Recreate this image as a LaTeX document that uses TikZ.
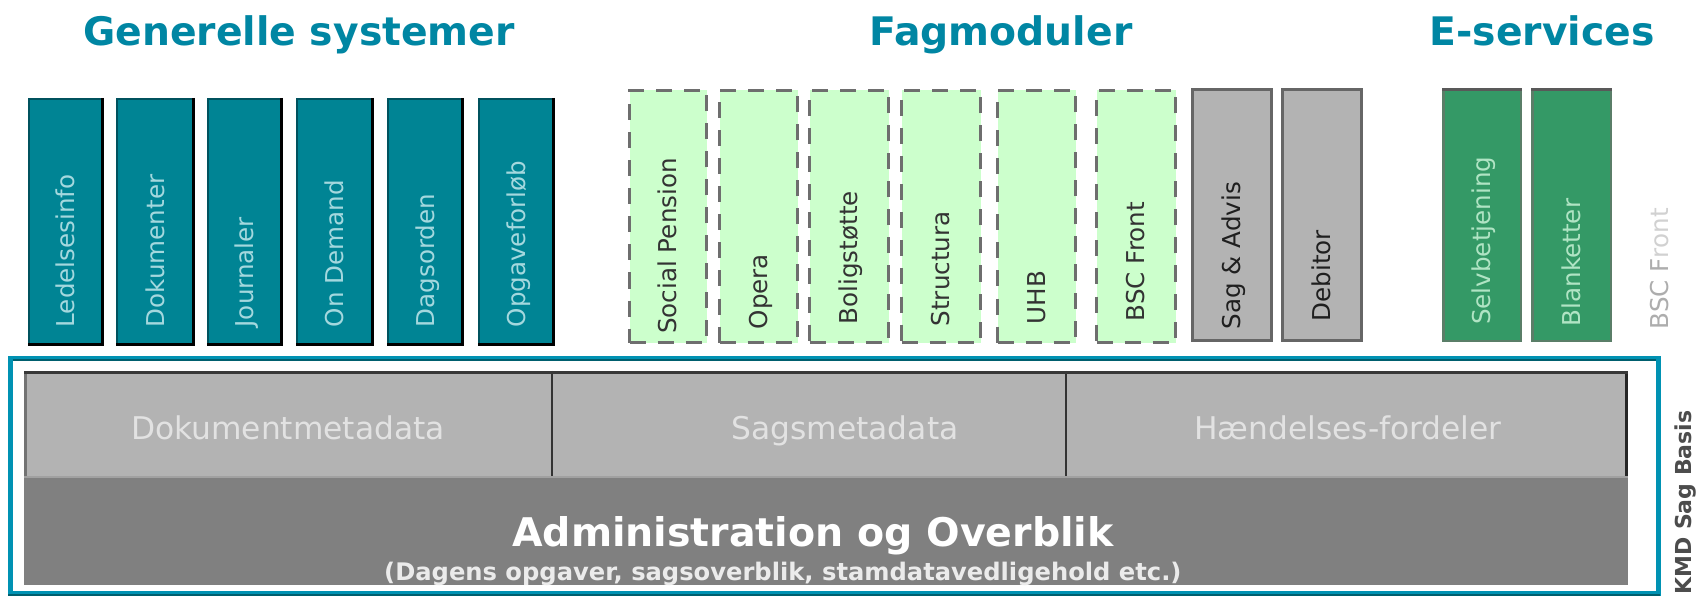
\documentclass[tikz,border=0pt]{standalone}
\usepackage{fontspec}
\setmainfont{DejaVu Sans}
\usetikzlibrary{calc}
\definecolor{titleblue}{HTML}{0086A3}
\definecolor{tealfill}{HTML}{008494}
\definecolor{tealedge}{HTML}{00525E}
\definecolor{teallbl}{HTML}{A4D8DE}
\definecolor{lgfill}{HTML}{CCFFCC}
\definecolor{dashcol}{HTML}{6E6E6E}
\definecolor{grayfill}{HTML}{B3B3B3}
\definecolor{grayedge}{HTML}{666666}
\definecolor{esfill}{HTML}{349966}
\definecolor{esedge}{HTML}{5A7E68}
\definecolor{eslbl}{HTML}{B0E4C4}
\definecolor{framecol}{HTML}{0092B3}
\definecolor{framedark}{HTML}{005F6E}
\definecolor{darkrow}{HTML}{808080}
\definecolor{celltxt}{HTML}{E2E2E2}
\begin{document}
\begin{tikzpicture}[x=1pt,y=-1pt,
  toptitle/.style={anchor=base, inner sep=0pt, text=titleblue, font=\fontsize{39.3}{44}\selectfont\bfseries},
  tealbox/.style={draw=tealedge, fill=tealfill, line width=2pt, inner sep=0pt, minimum height=246pt},
  dashbox/.style={draw=dashcol, fill=lgfill, line width=3pt, dash pattern=on 16pt off 12pt, inner sep=0pt, minimum height=252pt},
  graybox/.style={draw=grayedge, fill=grayfill, line width=3pt, inner sep=0pt, minimum height=251pt},
  esbox/.style={draw=esedge, fill=esfill, line width=2.5pt, inner sep=0pt, minimum height=251.5pt},
  lbl/.style={rotate=90, anchor=west, inner sep=0pt, text height=17.9pt, text depth=0pt, font=\fontsize{24.6}{28}\selectfont},
  celltext/.style={anchor=base, inner sep=0pt, text=celltxt, font=\fontsize{31.3}{36}\selectfont},
  cell/.style={fill=grayfill, inner sep=0pt, minimum height=106pt},
]
\useasboundingbox (0,0) rectangle (1698,596);
\fill[white] (0,0) rectangle (1698,596);

% ---- titles
\node[toptitle] (tgen) at (299,46) {Generelle systemer};
\node[toptitle] (tfag) at (1001,46) {Fagmoduler};
\node[toptitle] (tes)  at (1542,46) {E-services};

% ---- Generelle systemer boxes
\foreach \n/\cx/\w in {g1/66/74, g2/155.5/77, g3/245/74, g4/335/76, g5/425.5/75, g6/516.5/75}{
  \node[tealbox, minimum width=\w pt] (\n) at (\cx,222) {};
  \draw[black, line width=3.5pt] ($(\n.north east)+(-1.75,0)$) -- ($(\n.south east)+(-1.75,-1.75)$) -- ($(\n.south west)+(0,-1.75)$);
}
\foreach \n/\t in {g1/Ledelsesinfo, g2/Dokumenter, g3/Journaler, g4/On Demand, g5/Dagsorden, g6/Opgaveforløb}{
  \node[lbl, text=teallbl] (\n l) at (\n.center |- 0,327.5) {\t};
}

% ---- Fagmoduler dashed boxes
\foreach \n/\cx/\w in {f1/668/77, f2/758.5/78, f3/849/79, f4/941/79, f5/1036.5/78, f6/1136/79}{
  \node[dashbox, minimum width=\w pt] (\n) at (\cx,216.5) {};
}
\foreach \n/\t/\y in {f1/Social Pension/334, f2/Opera/329.5, f3/Boligstøtte/324.5, f4/Structura/326.5, f5/UHB/324.5, f6/BSC Front/321.5}{
  \node[lbl, text=black!80] (\n l) at (\n.center |- 0,\y) {\t};
}

% ---- Fagmoduler gray boxes
\node[graybox, minimum width=79pt] (s1) at (1232,215) {};
\node[graybox, minimum width=79pt] (s2) at (1322,215) {};
\node[lbl, text=black!88] (s1l) at (s1.center |- 0,329.5) {Sag \& Advis};
\node[lbl, text=black!88] (s2l) at (s2.center |- 0,321.5) {Debitor};

% ---- E-services boxes
\node[esbox, minimum width=77.5pt] (e1) at (1482,215) {};
\node[esbox, minimum width=78.5pt] (e2) at (1571.5,215) {};
\draw[black!65, line width=3pt] ($(e1.north west)+(0,1.5)$) -- ($(e1.north east)+(0,1.5)$);
\draw[black!65, line width=3pt] ($(e2.north west)+(0,1.5)$) -- ($(e2.north east)+(0,1.5)$);
\node[lbl, text=eslbl] (e1l) at (e1.center |- 0,325) {Selvbetjening};
\node[lbl, text=eslbl] (e2l) at (e2.center |- 0,326.5) {Blanketter};

% ---- side text
\node[lbl, text=black!32] (bscside) at (1660,329.5) {BSC F\textcolor{black!18}{ront}};

% ---- KMD Sag Basis frame
\node[draw=framecol, line width=5pt, inner sep=0pt, minimum width=1648pt, minimum height=235pt] (frame) at (834,476) {};
\draw[framedark, line width=2.5pt] (12.5,359.75) -- (1655.5,359.75);
\draw[framedark, line width=2pt] (8,595) -- (1660,595);

% rows
\node[fill=darkrow, inner sep=0pt, minimum width=1604pt, minimum height=108pt] (adm) at (826,531) {};
\node[cell, minimum width=528pt] (c1) at (288,424) {};
\node[cell, minimum width=514pt] (c2) at (809,424) {};
\node[cell, minimum width=562pt] (c3) at (1347,424) {};
\draw[black!55, line width=3pt] (25.5,371) -- (25.5,477);
\draw[black!85, line width=3pt] (1626.5,371) -- (1626.5,477);
\draw[black!80, line width=2.5pt] (c1.north east) -- (c1.south east);
\draw[black!80, line width=2.5pt] (c2.north east) -- (c2.south east);
\draw[black!78, line width=3pt] (24,372.5) -- (1628,372.5);
\draw[black!37, line width=2pt] (24,477) -- (1628,477);

\node[celltext] (c1t) at (288,439) {Dokumentmetadata};
\node[celltext] (c2t) at (845,439) {Sagsmetadata};
\node[celltext] (c3t) at (1348,439) {Hændelses-fordeler};

\node[anchor=base west, inner sep=0pt, text=white, font=\fontsize{39.5}{44}\selectfont\bfseries] (admt) at (512,546) {Administration og Overblik};
\node[anchor=base west, inner sep=0pt, text=black!8, font=\fontsize{24.2}{28}\selectfont\bfseries] (adms) at (384,580) {(Dagens opgaver, sagsoverblik, stamdatavedligehold etc.)};

\node[rotate=90, anchor=west, inner sep=0pt, text height=16pt, text depth=0pt, text=black!70, font=\fontsize{22}{26}\selectfont\bfseries] (kmd) at (1683,595) {KMD Sag Basis};
\end{tikzpicture}
\end{document}
